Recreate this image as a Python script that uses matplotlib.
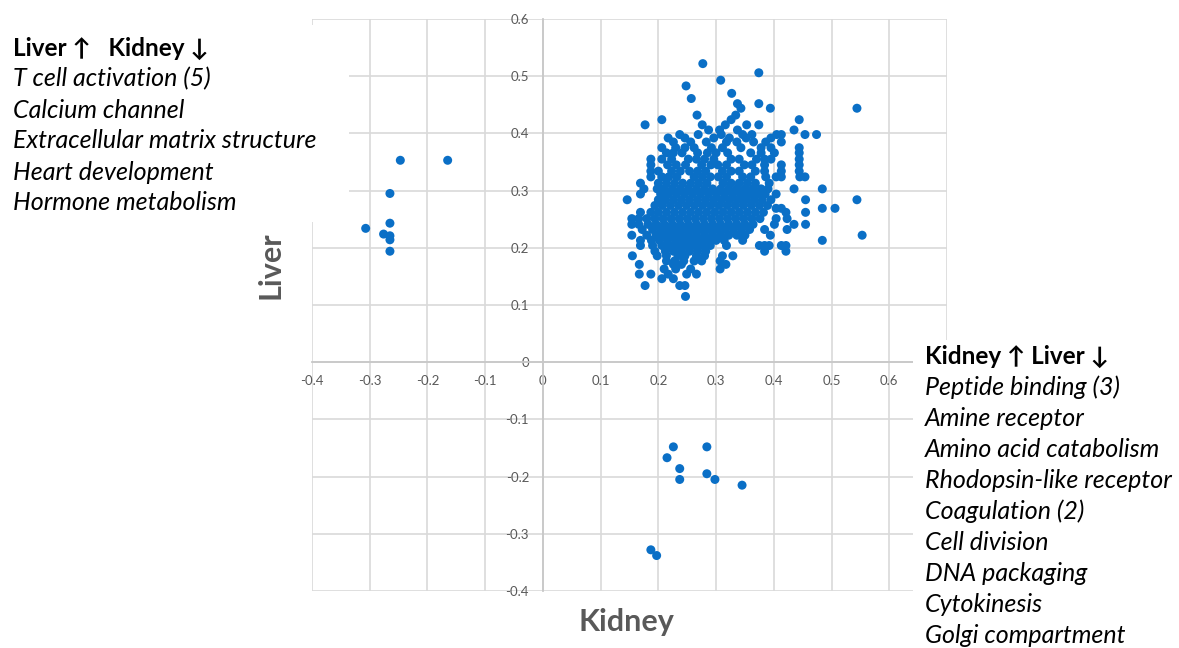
import matplotlib
matplotlib.use("Agg")
import matplotlib.pyplot as plt
from matplotlib.patches import Rectangle

plt.rcParams['font.family'] = ['Lato', 'DejaVu Sans']

# Genes up in liver only (left group)
liver_up_kidney = [-0.247, -0.165, -0.265, -0.265, -0.307, -0.276, -0.265, -0.265, -0.265]
liver_up_liver = [0.353, 0.353, 0.295, 0.243, 0.234, 0.224, 0.221, 0.214, 0.194]

# Genes up in kidney only (bottom group)
kidney_up_kidney = [0.226, 0.284, 0.215, 0.237, 0.237, 0.284, 0.298, 0.345, 0.187, 0.197]
kidney_up_liver = [-0.148, -0.148, -0.167, -0.186, -0.205, -0.195, -0.205, -0.215, -0.328, -0.338]

# Main cluster, read row by row: (liver value, kidney values in that row)
both_up_rows = [
    (0.522, [0.277]),
    (0.506, [0.374]),
    (0.493, [0.308]),
    (0.483, [0.248]),
    (0.470, [0.327]),
    (0.461, [0.257]),
    (0.452, [0.337, 0.374]),
    (0.444, [0.343, 0.394, 0.544]),
    (0.432, [0.267, 0.334]),
    (0.424, [0.206, 0.326, 0.444]),
    (0.415, [0.177, 0.276, 0.316, 0.353, 0.374]),
    (0.406, [0.287, 0.306, 0.337, 0.435]),
    (0.398, [0.237, 0.269, 0.309, 0.346, 0.362, 0.405, 0.413, 0.454, 0.474]),
    (0.392, [0.217, 0.246, 0.296, 0.323, 0.352, 0.395]),
    (0.385, [0.226, 0.256, 0.283, 0.318, 0.336, 0.365, 0.386, 0.413]),
    (0.375, [0.206, 0.230, 0.246, 0.262, 0.292, 0.311, 0.343, 0.378, 0.395, 0.444]),
    (0.366, [0.214, 0.226, 0.241, 0.268, 0.285, 0.300, 0.320, 0.360, 0.378, 0.401, 0.444]),
    (0.355, [0.187, 0.206, 0.223, 0.252, 0.266, 0.280, 0.296, 0.326, 0.340, 0.370,
             0.384, 0.395, 0.444]),
    (0.345, [0.187, 0.216, 0.231, 0.247, 0.275, 0.291, 0.303, 0.318, 0.349, 0.362,
             0.384, 0.413, 0.444]),
    (0.334, [0.187, 0.200, 0.223, 0.238, 0.254, 0.268, 0.282, 0.311, 0.326, 0.340, 0.368,
             0.384, 0.413, 0.444]),
    (0.324, [0.187, 0.206, 0.218, 0.232, 0.262, 0.276, 0.290, 0.304, 0.318, 0.346, 0.360,
             0.386, 0.404, 0.413, 0.445, 0.454]),
    (0.313, [0.169, 0.200, 0.214, 0.228, 0.242, 0.256, 0.270, 0.284, 0.312, 0.326, 0.340, 0.354,
             0.368, 0.392]),
    (0.303, [0.175, 0.198, 0.210, 0.224, 0.238, 0.252, 0.266, 0.280, 0.294, 0.308, 0.322, 0.336, 0.350,
             0.364, 0.378, 0.390, 0.435, 0.484]),
    (0.294, [0.169, 0.204, 0.217, 0.231, 0.245, 0.259, 0.273, 0.287, 0.301, 0.315, 0.329, 0.343, 0.357,
             0.371, 0.385, 0.404]),
    (0.284, [0.146, 0.200, 0.212, 0.226, 0.240, 0.254, 0.268, 0.282, 0.296, 0.310, 0.324, 0.338, 0.352,
             0.366, 0.380, 0.395, 0.455, 0.544]),
    (0.274, [0.194, 0.207, 0.221, 0.235, 0.249, 0.263, 0.277, 0.291, 0.305, 0.319, 0.333, 0.347, 0.361,
             0.375, 0.389]),
    (0.269, [0.404, 0.413, 0.484, 0.506]),
    (0.262, [0.169, 0.187, 0.200, 0.214, 0.228, 0.242, 0.256, 0.270, 0.284, 0.298, 0.312, 0.326, 0.340,
             0.354, 0.368, 0.382, 0.421, 0.455]),
    (0.251, [0.154, 0.166, 0.180, 0.194, 0.208, 0.222, 0.236, 0.250, 0.264, 0.278, 0.292, 0.306, 0.320,
             0.334, 0.348, 0.362, 0.376, 0.404, 0.423]),
    (0.241, [0.154, 0.166, 0.182, 0.196, 0.210, 0.224, 0.238, 0.252, 0.266, 0.280, 0.294, 0.308, 0.322,
             0.336, 0.350, 0.364, 0.401, 0.435, 0.455]),
    (0.232, [0.172, 0.190, 0.204, 0.218, 0.232, 0.246, 0.260, 0.274, 0.288, 0.302, 0.316, 0.330, 0.344,
             0.358, 0.384, 0.423]),
    (0.222, [0.154, 0.180, 0.196, 0.210, 0.224, 0.238, 0.252, 0.266, 0.280, 0.294, 0.308, 0.322, 0.336,
             0.350, 0.394, 0.553]),
    (0.213, [0.169, 0.188, 0.202, 0.216, 0.230, 0.244, 0.258, 0.272, 0.286, 0.300, 0.314, 0.346, 0.484]),
    (0.204, [0.169, 0.190, 0.206, 0.220, 0.234, 0.248, 0.262, 0.276, 0.290, 0.318, 0.375, 0.384,
             0.392, 0.413, 0.421]),
    (0.194, [0.194, 0.212, 0.226, 0.240, 0.254, 0.268, 0.282, 0.384, 0.421]),
    (0.186, [0.155, 0.198, 0.214, 0.234, 0.246, 0.266, 0.280, 0.311, 0.329]),
    (0.177, [0.214, 0.228, 0.244, 0.262, 0.275, 0.307]),
    (0.171, [0.167, 0.226, 0.240, 0.317]),
    (0.163, [0.210, 0.230, 0.256, 0.307]),
    (0.154, [0.167, 0.187, 0.217, 0.249, 0.266]),
    (0.146, [0.206, 0.226]),
    (0.134, [0.177, 0.237, 0.246]),
    (0.115, [0.247]),
]

x_ticks = [-0.4, -0.3, -0.2, -0.1, 0, 0.1, 0.2, 0.3, 0.4, 0.5, 0.6, 0.7]
x_labels = ['-0.4', '-0.3', '-0.2', '-0.1', '0', '0.1', '0.2', '0.3', '0.4', '0.5', '0.6', '']
y_ticks = [-0.4, -0.3, -0.2, -0.1, 0, 0.1, 0.2, 0.3, 0.4, 0.5, 0.6]
y_labels = ['-0.4', '-0.3', '-0.2', '-0.1', '0', '0.1', '0.2', '0.3', '0.4', '0.5', '0.6']

left_title = 'Liver \u2191   Kidney \u2193'
left_terms = ['T cell activation (5)', 'Calcium channel', 'Extracellular matrix structure',
              'Heart development', 'Hormone metabolism']
right_title = 'Kidney \u2191 Liver \u2193'
right_terms = ['Peptide binding (3)', 'Amine receptor', 'Amino acid catabolism',
               'Rhodopsin-like receptor', 'Coagulation (2)', 'Cell division', 'DNA packaging',
               'Cytokinesis', 'Golgi compartment']

kidney = []
liver = []
for ly, kxs in both_up_rows:
    for kx in kxs:
        kidney.append(kx)
        liver.append(ly)
kidney += liver_up_kidney + kidney_up_kidney
liver += liver_up_liver + kidney_up_liver

W, H = 1179, 648
fig = plt.figure(figsize=(W / 100, H / 100), dpi=100)
ax = fig.add_axes([312 / W, 1 - 591 / H, (947 - 312) / W, (591 - 19) / H])

dot_color = '#0A6FC6'
ax.scatter(kidney, liver, s=42, color=dot_color, edgecolors='none', zorder=3, clip_on=False)

ax.set_xlim(-0.4, 0.7)
ax.set_ylim(-0.4, 0.6)
ax.set_xticks(x_ticks)
ax.set_xticklabels(x_labels)
ax.set_yticks(y_ticks)
ax.set_yticklabels(y_labels)
ax.grid(True, color='#D9D9D9', lw=1.2)
ax.set_axisbelow(True)
for side in ['top', 'right']:
    ax.spines[side].set_visible(False)
ax.spines['left'].set_position(('data', 0))
ax.spines['bottom'].set_position(('data', 0))
for side in ['left', 'bottom']:
    ax.spines[side].set_color('#C8C8C8')
    ax.spines[side].set_linewidth(1.3)
ax.tick_params(length=0, labelsize=9.5, labelcolor='#595959')
ax.tick_params(axis='y', pad=10)
ax.tick_params(axis='x', pad=9)

# white boxes behind the term lists, as in the original slide
fig.add_artist(Rectangle((0, 1 - 222 / H), 349 / W, (222 - 25) / H, transform=fig.transFigure,
                         facecolor='white', edgecolor='none', zorder=3))
fig.add_artist(Rectangle((913 / W, 0), (W - 913) / W, (H - 340) / H, transform=fig.transFigure,
                         facecolor='white', edgecolor='none', zorder=3))

fig.text(13 / W, 1 - 48 / H, left_title, fontsize=17.5, fontweight='bold', va='center', zorder=4)
for i, t in enumerate(left_terms):
    fig.text(13 / W, 1 - (79 + i * 31) / H, t, fontsize=18, style='italic', va='center', zorder=4)

fig.text(925 / W, 1 - 356 / H, right_title, fontsize=17.5, fontweight='bold', va='center', zorder=4)
for i, t in enumerate(right_terms):
    fig.text(925 / W, 1 - (387 + i * 31.1) / H, t, fontsize=18, style='italic', va='center', zorder=4)

fig.text(271 / W, 1 - 265 / H, 'Liver', rotation=90, fontsize=22, fontweight='bold',
         color='#595959', ha='center', va='center', zorder=4)
fig.text(626 / W, 1 - 622 / H, 'Kidney', fontsize=22, fontweight='bold',
         color='#595959', ha='center', va='center', zorder=4)

fig.savefig('out.png', dpi=100, facecolor='white')
